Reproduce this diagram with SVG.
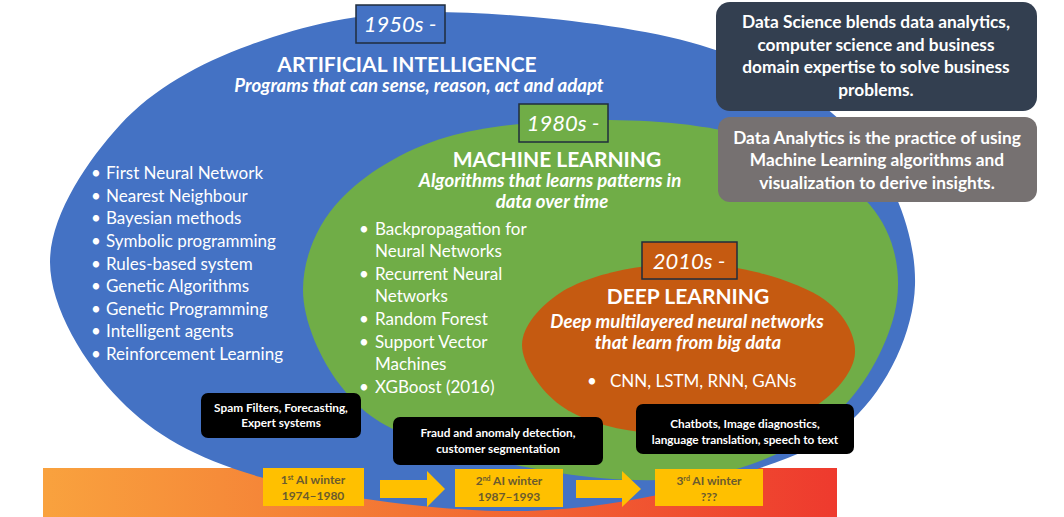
<svg xmlns="http://www.w3.org/2000/svg" width="1064" height="517" viewBox="0 0 1064 517">
<defs>
<linearGradient id="bar" x1="0" y1="0" x2="1" y2="0">
<stop offset="0" stop-color="#F9A23E"/>
<stop offset="0.45" stop-color="#F37534"/>
<stop offset="1" stop-color="#EE3A2E"/>
</linearGradient>
<style>
text{font-family:Lato,"Open Sans","Liberation Sans",sans-serif;fill:#fff}
.t{font-size:21px;font-weight:bold;text-anchor:middle}
.s{font-size:18.6px;font-weight:bold;font-style:italic;text-anchor:middle}
.yr{font-size:22px;font-style:italic;text-anchor:middle}
.li{font-size:17px}
.bx{font-size:17.3px;font-weight:bold;text-anchor:middle}
.bk{font-size:11.8px;font-weight:bold;text-anchor:middle}
.yw{font-size:12px;font-weight:bold;text-anchor:middle;fill:#6b5b2e}
.lab{stroke:#1f2d3d;stroke-width:1.5}
.arr{fill:#FFC000}
</style>
</defs>
<rect id="bar-bg" x="43" y="468" width="794" height="49" fill="url(#bar)"/>

<g id="ai">
<path fill="#4472C4" d="M50,262 C50,307.8 85,364.2 120,400 C155,435.8 196.7,458.5 260,477 C323.3,495.5 426.7,509.7 500,511 C573.3,512.3 641.3,500.2 700,485 C758.7,469.8 816.2,453.3 852,420 C887.8,386.7 913.7,331.7 915,285 C916.3,238.3 895.8,180 860,140 C824.2,100 771.7,66.3 700,45 C628.3,23.7 505,12 430,12 C355,12 301.7,26.2 250,45 C198.3,63.8 153.3,88.8 120,125 C86.7,161.2 50,216.2 50,262 Z"/>
<text class="t" x="407" y="72">ARTIFICIAL INTELLIGENCE</text>
<text class="s" x="419" y="92">Programs that can sense, reason, act and adapt</text>
<g class="li">
<text x="91" y="179">•</text><text x="106" y="179">First Neural Network</text>
<text x="91" y="202">•</text><text x="106" y="202">Nearest Neighbour</text>
<text x="91" y="224">•</text><text x="106" y="224">Bayesian methods</text>
<text x="91" y="247">•</text><text x="106" y="247">Symbolic programming</text>
<text x="91" y="270">•</text><text x="106" y="270">Rules-based system</text>
<text x="91" y="292">•</text><text x="106" y="292">Genetic Algorithms</text>
<text x="91" y="315">•</text><text x="106" y="315">Genetic Programming</text>
<text x="91" y="337">•</text><text x="106" y="337">Intelligent agents</text>
<text x="91" y="360">•</text><text x="106" y="360">Reinforcement Learning</text>
</g>
</g>

<g id="ml">
<path fill="#70AD47" d="M303,290 C303,320.8 320.5,360 340,385 C359.5,410 376.7,424.5 420,440 C463.3,455.5 546.7,473.3 600,478 C653.3,482.7 699.2,480.2 740,468 C780.8,455.8 818.8,433 845,405 C871.2,377 892.8,333.3 897,300 C901.2,266.7 892.8,231.7 870,205 C847.2,178.3 803.3,154.2 760,140 C716.7,125.8 662.2,120.5 610,120 C557.8,119.5 492,123.7 447,137 C402,150.3 364,174.5 340,200 C316,225.5 303,259.2 303,290 Z"/>
<text class="t" x="557" y="167">MACHINE LEARNING</text>
<text class="s" x="550" y="187">Algorithms that learns patterns in</text>
<text class="s" x="552" y="208">data over time</text>
<g class="li">
<text x="359" y="235">•</text><text x="375" y="235">Backpropagation for</text>
<text x="375" y="257">Neural Networks</text>
<text x="359" y="280">•</text><text x="375" y="280">Recurrent Neural</text>
<text x="375" y="302">Networks</text>
<text x="359" y="325">•</text><text x="375" y="325">Random Forest</text>
<text x="359" y="348">•</text><text x="375" y="348">Support Vector</text>
<text x="375" y="370">Machines</text>
<text x="359" y="393">•</text><text x="375" y="393">XGBoost (2016)</text>
</g>
</g>

<g id="dl">
<path fill="#C55A11" d="M522,345 C522,363.7 540.3,390.5 560,405 C579.7,419.5 608.3,428.2 640,432 C671.7,435.8 720,432.8 750,428 C780,423.2 802.5,415.5 820,403 C837.5,390.5 854.2,370.2 855,353 C855.8,335.8 844.7,314.2 825,300 C805.3,285.8 767.8,273.5 737,268 C706.2,262.5 669.5,262.8 640,267 C610.5,271.2 579.7,280 560,293 C540.3,306 522,326.3 522,345 Z"/>
<text class="t" x="688" y="304">DEEP LEARNING</text>
<text class="s" x="687" y="328">Deep multilayered neural networks</text>
<text class="s" x="688" y="349">that learn from big data</text>
<text class="li" x="587" y="387">•</text>
<text class="li" x="610" y="387">CNN, LSTM, RNN, GANs</text>
</g>

<g id="label-1950s">
<rect class="lab" x="356" y="5" width="89" height="38" fill="#4472C4"/>
<text class="yr" x="400" y="32">1950s -</text>
</g>
<g id="label-1980s">
<rect class="lab" x="519" y="104" width="89" height="38" fill="#70AD47"/>
<text class="yr" x="563" y="131">1980s -</text>
</g>
<g id="label-2010s">
<rect class="lab" x="642" y="242" width="95" height="37" fill="#C55A11"/>
<text class="yr" x="689" y="269">2010s -</text>
</g>

<g id="data-science">
<rect x="716" y="2" width="321" height="109" rx="14" fill="#333F50"/>
<text class="bx" x="876" y="28">Data Science blends data analytics,</text>
<text class="bx" x="876" y="51">computer science and business</text>
<text class="bx" x="876" y="73">domain expertise to solve business</text>
<text class="bx" x="876" y="96">problems.</text>
</g>
<g id="data-analytics">
<rect x="718" y="117" width="319" height="85" rx="12" fill="#767171"/>
<text class="bx" x="877" y="144">Data Analytics is the practice of using</text>
<text class="bx" x="877" y="166">Machine Learning algorithms and</text>
<text class="bx" x="877" y="189">visualization to derive insights.</text>
</g>

<g id="apps-1">
<rect x="201" y="393" width="160" height="45" rx="7" fill="#000"/>
<text class="bk" x="281" y="412">Spam Filters, Forecasting,</text>
<text class="bk" x="281" y="427">Expert systems</text>
</g>
<g id="apps-2">
<rect x="393" y="417" width="210" height="48" rx="7" fill="#000"/>
<text class="bk" x="498" y="437">Fraud and anomaly detection,</text>
<text class="bk" x="498" y="453">customer segmentation</text>
</g>
<g id="apps-3">
<rect x="636" y="404" width="218" height="50" rx="7" fill="#000"/>
<text class="bk" x="745" y="428">Chatbots, Image diagnostics,</text>
<text class="bk" x="745" y="444">language translation, speech to text</text>
</g>

<g id="winter-1">
<rect x="263" y="468" width="101" height="38" fill="#FFC000"/>
<text class="yw" x="313" y="484">1<tspan font-size="7" dy="-4">st</tspan><tspan dy="4"> AI winter</tspan></text>
<text class="yw" x="313" y="500">1974–1980</text>
</g>
<g id="winter-2">
<rect x="455" y="469" width="108" height="38" fill="#FFC000"/>
<text class="yw" x="509" y="485">2<tspan font-size="7" dy="-4">nd</tspan><tspan dy="4"> AI winter</tspan></text>
<text class="yw" x="509" y="501">1987–1993</text>
</g>
<g id="winter-3">
<rect x="655" y="469" width="108" height="37" fill="#FFC000"/>
<text class="yw" x="709" y="485">3<tspan font-size="7" dy="-4">rd</tspan><tspan dy="4"> AI winter</tspan></text>
<text class="yw" x="709" y="501">???</text>
</g>

<g id="connectors">
<path class="arr" d="M380,480 H427 V471 L445,489 L427,507 V498 H380 Z"/>
<path class="arr" d="M576,480 H622 V471 L641,489 L622,507 V498 H576 Z"/>
</g>
</svg>
